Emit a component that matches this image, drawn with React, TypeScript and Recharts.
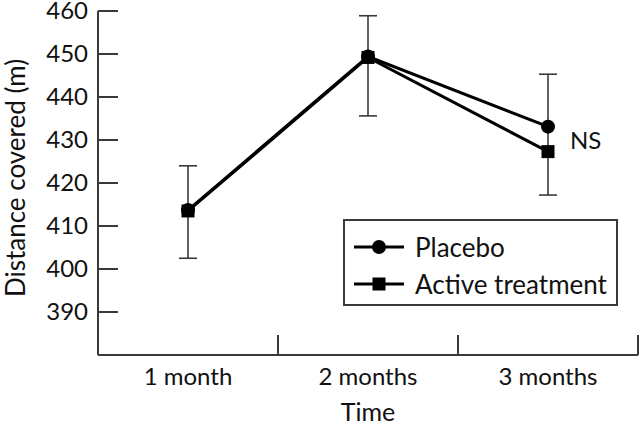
import {
  LineChart,
  Line,
  XAxis,
  YAxis,
  ErrorBar,
  ReferenceDot,
} from 'recharts';

const categories = ['1 month', '2 months', '3 months'];
const placebo = [413.7, 449.4, 433.1];
const active = [413.5, 449.2, 427.3];
// ends of the error bars as drawn on the figure
const errLow = [402.5, 435.6, 417.2];
const errHigh = [424.0, 458.9, 445.3];
const yTicks = [390, 400, 410, 420, 430, 440, 450, 460];

const FONT = 'Lato, "Open Sans", sans-serif';
const AXIS = '#3a3a3a';
const W = 640;
const H = 424;
const MARGIN = { top: 11, right: 2, left: 8, bottom: 9 };
const Y_AXIS_W = 90;
const X_AXIS_H = 60;
const PLOT_W = W - MARGIN.left - MARGIN.right - Y_AXIS_W;
const BAND = PLOT_W / categories.length;

const data = categories.map((name, i) => ({
  name,
  placebo: placebo[i],
  active: active[i],
  err: [placebo[i] - errLow[i], errHigh[i] - placebo[i]],
}));

function XTick({ x, y, payload }: any) {
  const half = BAND / 2;
  return (
    <g>
      <line x1={x + half} x2={x + half} y1={y} y2={y - 20} stroke={AXIS} strokeWidth={2} />
      <text x={x} y={y + 30} textAnchor="middle" fontSize={24} fontFamily={FONT} fill="#111">
        {payload.value}
      </text>
    </g>
  );
}

function YTick({ x, y, payload }: any) {
  return (
    <g>
      <line x1={x} x2={x + 20} y1={y} y2={y} stroke={AXIS} strokeWidth={2} />
      <text x={x - 10} y={y + 8} textAnchor="end" fontSize={24} fontFamily={FONT} fill="#111">
        {payload.value}
      </text>
    </g>
  );
}

function SquareDot({ cx, cy, index }: any) {
  return <rect key={`sq-${index}`} x={cx - 6.5} y={cy - 6.5} width={13} height={13} fill="#000" />;
}

function LegendBox() {
  const row = (label: string, square: boolean) => (
    <div style={{ display: 'flex', alignItems: 'center', height: 37 }}>
      <svg width={52} height={16} style={{ marginRight: 10 }}>
        <line x1={1} x2={51} y1={8} y2={8} stroke="#000" strokeWidth={3} />
        {square ? (
          <rect x={19.5} y={1.5} width={13} height={13} fill="#000" />
        ) : (
          <circle cx={26} cy={8} r={7} fill="#000" />
        )}
      </svg>
      <span>{label}</span>
    </div>
  );
  return (
    <div
      style={{
        position: 'absolute',
        left: 343,
        top: 219,
        boxSizing: 'border-box',
        width: 275,
        height: 87,
        border: `2px solid ${AXIS}`,
        background: '#fff',
        padding: '7px 0 0 8px',
        fontFamily: FONT,
        fontSize: 26,
        color: '#111',
        lineHeight: 1,
      }}
    >
      {row('Placebo', false)}
      {row('Active treatment', true)}
    </div>
  );
}

export default function App() {
  return (
    <div style={{ position: 'absolute', left: 0, top: 0, width: W, height: H, background: '#fff' }}>
      <LineChart width={W} height={H} data={data} margin={MARGIN}>
        <XAxis
          dataKey="name"
          height={X_AXIS_H}
          padding={{ left: BAND / 2, right: BAND / 2 }}
          stroke={AXIS}
          strokeWidth={2}
          tickLine={false}
          tickSize={0}
          tickMargin={0}
          tick={<XTick />}
          interval={0}
          label={{
            content: ({ viewBox }: any) => (
              <text
                x={viewBox.x + viewBox.width / 2}
                y={viewBox.y + 66}
                textAnchor="middle"
                fontSize={25}
                fontFamily={FONT}
                fill="#111"
              >
                Time
              </text>
            ),
          }}
        />
        <YAxis
          width={Y_AXIS_W}
          domain={[380, 460]}
          ticks={yTicks}
          interval={0}
          stroke={AXIS}
          strokeWidth={2}
          tickLine={false}
          tickSize={0}
          tickMargin={0}
          tick={<YTick />}
          label={{
            content: ({ viewBox }: any) => {
              const cx = viewBox.x + 7;
              const cy = viewBox.y + viewBox.height / 2 - 5;
              return (
                <text
                  x={cx}
                  y={cy}
                  transform={`rotate(-90 ${cx} ${cy})`}
                  dominantBaseline="central"
                  textAnchor="middle"
                  fontSize={26}
                  fontFamily={FONT}
                  fill="#111"
                >
                  Distance covered (m)
                </text>
              );
            },
          }}
        />
        <Line
          type="linear"
          dataKey="placebo"
          name="Placebo"
          stroke="#000"
          strokeWidth={3}
          dot={{ r: 7, fill: '#000', stroke: 'none' }}
          isAnimationActive={false}
        >
          <ErrorBar dataKey="err" direction="y" width={9} stroke={AXIS} strokeWidth={1.6} />
        </Line>
        <Line
          type="linear"
          dataKey="active"
          name="Active treatment"
          stroke="#000"
          strokeWidth={3}
          dot={<SquareDot />}
          isAnimationActive={false}
        />
        <ReferenceDot
          x="3 months"
          y={430}
          r={0}
          fill="none"
          stroke="none"
          label={{ value: 'NS', position: 'right', offset: 22, fontSize: 24, fontFamily: FONT, fill: '#111' }}
        />
      </LineChart>
      <LegendBox />
    </div>
  );
}
